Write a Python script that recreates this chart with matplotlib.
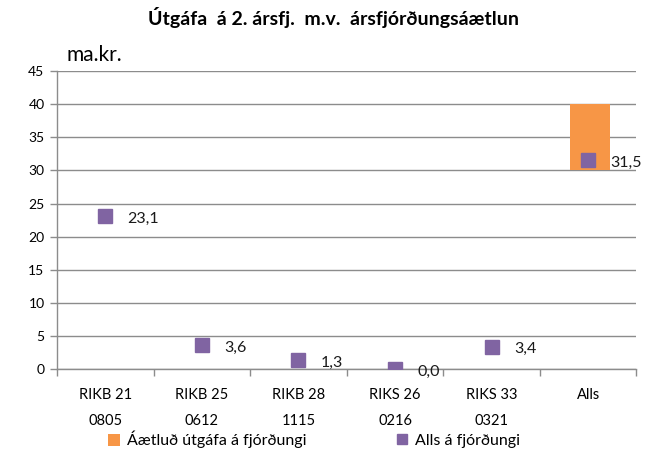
import matplotlib
matplotlib.use("Agg")
import matplotlib.pyplot as plt
from matplotlib.patches import Patch
from matplotlib.lines import Line2D
import numpy as np

plt.rcParams['font.family'] = ['Lato', 'DejaVu Sans']

categories = ["RIKB 21\n0805", "RIKB 25\n0612", "RIKB 28\n1115", "RIKS 26\n0216", "RIKS 33\n0321", "Alls"]
issued = [23.1, 3.6, 1.3, 0.0, 3.4, 31.5]
plan_low = 30.0
plan_high = 40.0
plan_index = 5
y_ticks = list(range(0, 50, 5))

orange = "#F79646"
purple = "#8064A2"
grid_c = "#8C8C8C"

fig = plt.figure(figsize=(6.66, 4.53), dpi=100)
ax = fig.add_axes([0.0856, 0.1854, 0.870, 0.6576])

x = np.arange(len(categories))

# planned range for the quarter, drawn as a floating bar
ax.bar(x[plan_index] + 0.02, plan_high - plan_low, bottom=plan_low, width=0.42,
       color=orange, zorder=2)

# issued amounts
ax.plot(x, issued, linestyle="none", marker="s", markersize=10,
        color=purple, zorder=3)
for xi, v in zip(x, issued):
    ax.annotate(f"{v:.1f}".replace(".", ","), (xi, v), xytext=(16, -2),
                textcoords="offset points", ha="left", va="center",
                fontsize=11.5, color="#1a1a1a", zorder=4)

ax.set_xlim(-0.5, len(categories) - 0.5)
ax.set_ylim(0, 45)
ax.set_yticks(y_ticks)
ax.yaxis.grid(True, color=grid_c, linewidth=1.0)
ax.set_axisbelow(True)

ax.set_xticks(np.arange(len(categories) + 1) - 0.5)
ax.set_xticklabels([])
ax.set_xticks(x, minor=True)
ax.set_xticklabels(categories, minor=True, fontsize=10.5, linespacing=2.05)
ax.tick_params(axis="x", which="major", length=5, color=grid_c, width=1)
ax.tick_params(axis="x", which="minor", length=0, pad=14)
ax.tick_params(axis="y", length=5, color=grid_c, width=1, labelsize=10, pad=4)

for side in ("top", "right"):
    ax.spines[side].set_visible(False)
for side in ("left", "bottom"):
    ax.spines[side].set_color(grid_c)
    ax.spines[side].set_linewidth(1.0)

fig.text(0.5, 0.962, "Útgáfa  á 2. ársfj.  m.v.  ársfjórðungsáætlun",
         ha="center", va="center", fontsize=14, fontweight="bold")
fig.text(0.100, 0.878, "ma.kr.", ha="left", va="center", fontsize=15)

handles = [Patch(facecolor=orange, edgecolor="none"),
           Line2D([], [], linestyle="none", marker="s", markersize=7.5, color=purple)]
fig.legend(handles, ["Áætluð útgáfa á fjórðungi", "Alls á fjórðungi"],
           loc="center left", bbox_to_anchor=(0.14, 0.030), ncol=2, frameon=False,
           fontsize=11.5, handlelength=0.8, handleheight=0.8, handletextpad=0.4,
           columnspacing=5.6)

fig.savefig("out.png", dpi=100)
